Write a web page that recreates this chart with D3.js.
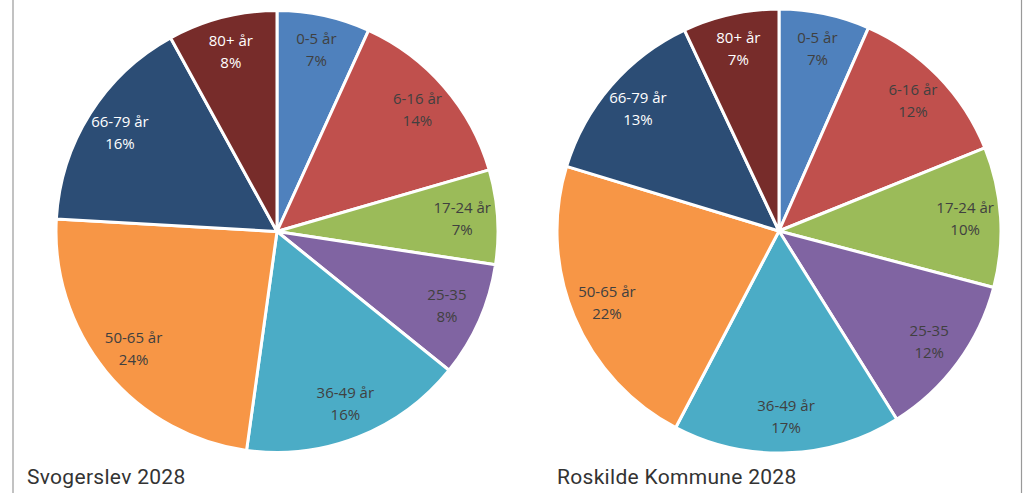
<!DOCTYPE html>
<html>
<head>
<meta charset="utf-8">
<script src="https://cdn.jsdelivr.net/npm/d3@7"></script>
<style>
  body { margin: 0; background: #fff; }
  svg { display: block; }
</style>
</head>
<body>
<div id="chart"></div>
<script>
var width = 1024,
    height = 493;

// age groups, same for both pies
var categories = ["0-5 år", "6-16 år", "17-24 år", "25-35", "36-49 år", "50-65 år", "66-79 år", "80+ år"];
var colors = ["#4f81bd", "#c0504d", "#9bbb59", "#8064a2", "#4bacc6", "#f79646", "#2c4d75", "#772c2a"];
var labelColors = ["#404040", "#404040", "#404040", "#404040", "#404040", "#404040", "#ffffff", "#ffffff"];

// shares in percent
var svogerslev = [6.8, 13.7, 6.9, 8.4, 16.4, 23.7, 16.1, 8.0];
var roskilde = [6.6, 12.3, 10.2, 12.0, 16.6, 22.0, 13.3, 7.0];

var pies = [
  {title: "Svogerslev 2028", values: svogerslev, cx: 277, cy: 231.5, r: 221, tx: 27},
  {title: "Roskilde Kommune 2028", values: roskilde, cx: 779, cy: 231, r: 222, tx: 557}
];

var svg = d3.select("#chart")
    .append("svg")
    .attr("width", width)
    .attr("height", height);

// frame lines on the sides
svg.append("line").attr("x1", 13).attr("x2", 13).attr("y1", 0).attr("y2", height)
    .attr("stroke", "#999").attr("stroke-width", 1.2);
svg.append("line").attr("x1", 1021.5).attr("x2", 1021.5).attr("y1", 0).attr("y2", height)
    .attr("stroke", "#999").attr("stroke-width", 1.2);

var pie = d3.pie().sort(null).value(function(d) { return d; });

pies.forEach(function(p) {
  var g = svg.append("g")
      .attr("transform", "translate(" + p.cx + "," + p.cy + ")");

  var arc = d3.arc().innerRadius(0).outerRadius(p.r);
  var labelArc = d3.arc().innerRadius(p.r * 0.84).outerRadius(p.r * 0.84);

  var arcs = pie(p.values);

  g.selectAll("path")
    .data(arcs)
    .join("path")
    .attr("d", arc)
    .attr("fill", function(d, i) { return colors[i]; })
    .attr("stroke", "#fff")
    .attr("stroke-width", 3)
    .attr("stroke-linejoin", "round");

  var lab = g.selectAll("text.lab")
    .data(arcs)
    .join("text")
    .attr("class", "lab")
    .attr("transform", function(d) { return "translate(" + labelArc.centroid(d) + ")"; })
    .attr("text-anchor", "middle")
    .style("font-family", "'Open Sans', sans-serif")
    .style("font-size", "15px")
    .attr("fill", function(d, i) { return labelColors[i]; });

  lab.append("tspan")
    .attr("x", 0)
    .attr("y", -6)
    .text(function(d, i) { return categories[i]; });
  lab.append("tspan")
    .attr("x", 0)
    .attr("y", 16)
    .text(function(d) { return Math.round(d.data) + "%"; });

  svg.append("text")
    .attr("x", p.tx)
    .attr("y", 484)
    .style("font-family", "Roboto, sans-serif")
    .style("font-size", "21px")
    .style("letter-spacing", "0.3px")
    .attr("fill", "#333")
    .text(p.title);
});
</script>
</body>
</html>
